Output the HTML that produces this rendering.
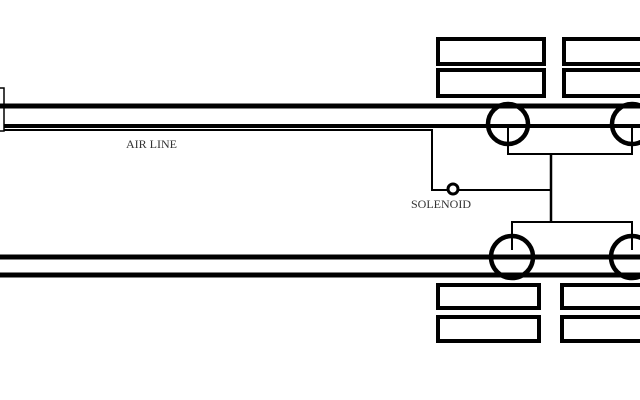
<!DOCTYPE html>
<html><head><style>html,body{margin:0;padding:0;background:#fff;width:640px;height:400px;overflow:hidden}</style></head>
<body>
<svg width="640" height="400" xmlns="http://www.w3.org/2000/svg">
<g fill="none" stroke="#000">
<!-- top boxes -->
<rect x="438" y="39" width="106" height="25" stroke-width="4"/>
<rect x="438" y="70" width="106" height="26" stroke-width="4"/>
<rect x="564" y="39" width="90" height="25" stroke-width="4"/>
<rect x="564" y="70" width="90" height="26" stroke-width="4"/>
<!-- bottom boxes -->
<rect x="438" y="285" width="101" height="23" stroke-width="4"/>
<rect x="438" y="317" width="101" height="24" stroke-width="4"/>
<rect x="562" y="285" width="90" height="23" stroke-width="4"/>
<rect x="562" y="317" width="90" height="24" stroke-width="4"/>
<!-- rails -->
<line x1="0" y1="106" x2="640" y2="106" stroke-width="5"/>
<line x1="4" y1="126" x2="640" y2="126" stroke-width="4"/>
<line x1="0" y1="257" x2="640" y2="257" stroke-width="5"/>
<line x1="0" y1="275" x2="640" y2="275" stroke-width="5"/>
<!-- left bracket -->
<rect x="-2" y="88" width="6" height="43" stroke-width="1.5"/>
<!-- air line -->
<polyline points="4,130 432,130 432,190 551,190" stroke-width="2"/>
<!-- wheels -->
<circle cx="508" cy="124" r="20" stroke-width="4.5"/>
<circle cx="632" cy="124" r="20" stroke-width="4.5"/>
<circle cx="512" cy="257" r="21" stroke-width="4.5"/>
<circle cx="632" cy="257" r="21" stroke-width="4.5"/>
<!-- linkage -->
<polyline points="508,124 508,154 632,154 632,124" stroke-width="2"/>
<line x1="551" y1="154" x2="551" y2="222" stroke-width="2.5"/>
<polyline points="512,250 512,222 632,222 632,250" stroke-width="2"/>
<circle cx="453" cy="189" r="5" stroke-width="3" fill="#fff"/>
</g>
<g font-family="Liberation Serif, serif" font-size="12" fill="#333">
<text x="126" y="148">AIR LINE</text>
<text x="411" y="208">SOLENOID</text>
</g>
</svg>
</body></html>
